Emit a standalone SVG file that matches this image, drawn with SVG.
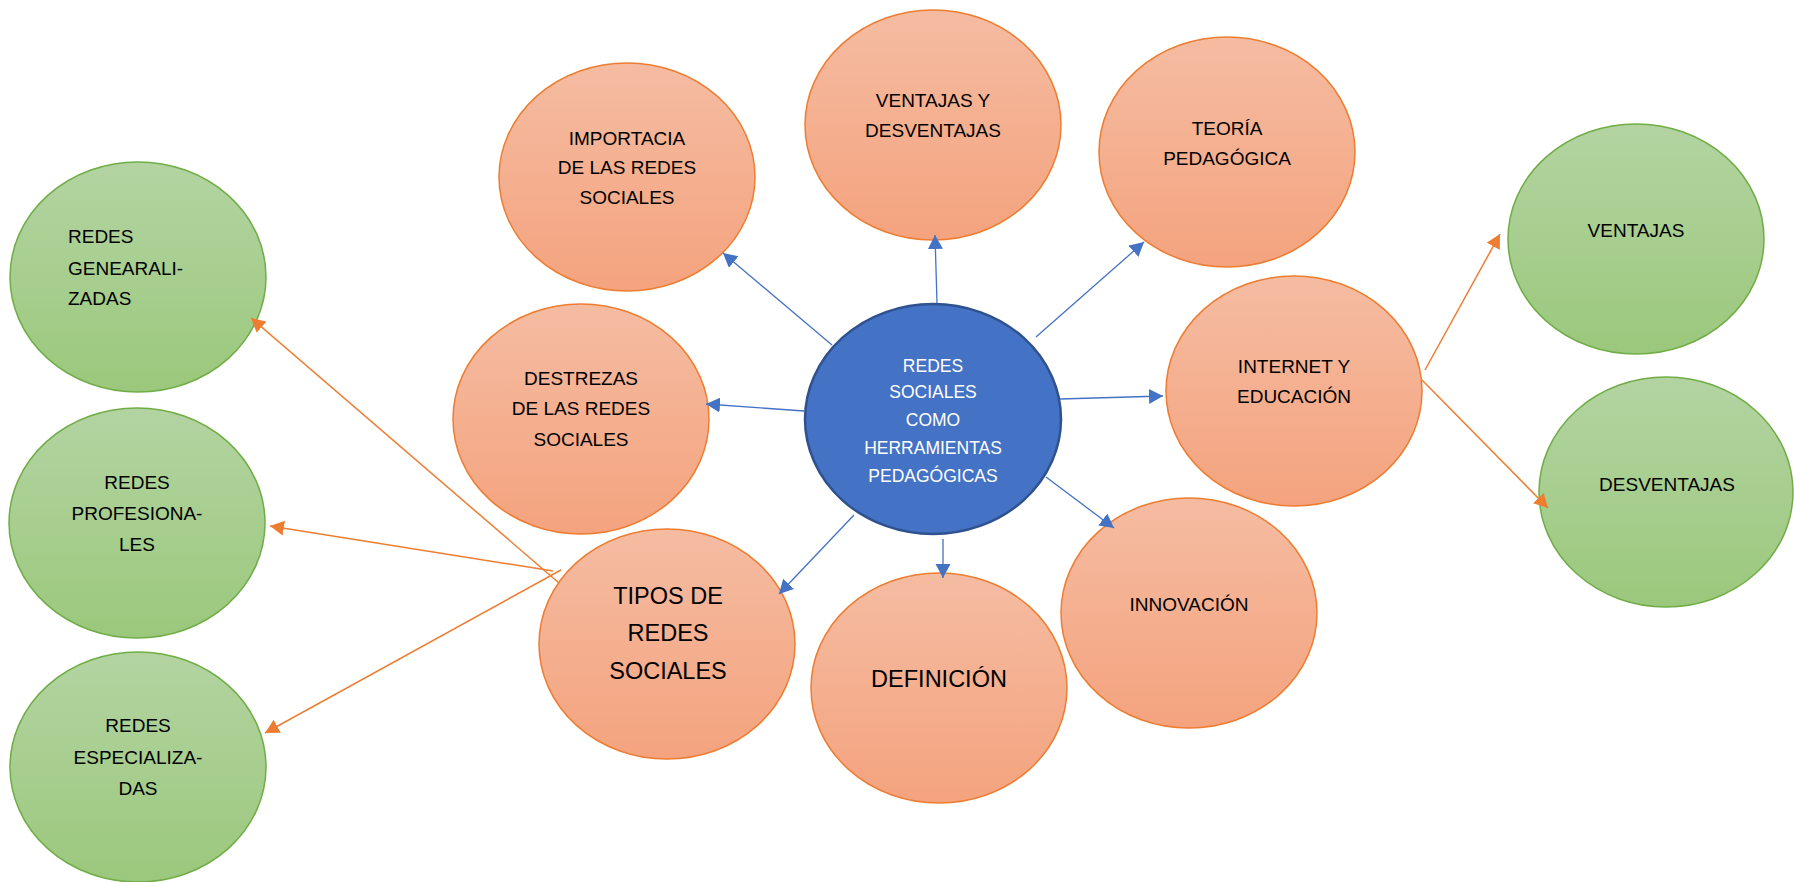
<svg xmlns="http://www.w3.org/2000/svg" width="1794" height="882" viewBox="0 0 1794 882">
<style>
.or{fill:url(#gOr);stroke:#ED7D31;stroke-width:1.5}
.gr{fill:url(#gGr);stroke:#70AD47;stroke-width:1.5}
.bl{fill:#4472C4;stroke:#2F528F;stroke-width:2.5}
text{font-family:"Liberation Sans",Arial,sans-serif;font-size:19px;fill:#000}
.c{text-anchor:middle}
.w{fill:#fff;font-size:17.5px}
.big{font-size:23.5px}
.ab{stroke:#4472C4;stroke-width:1.3;fill:none;marker-end:url(#mB)}
.ao{stroke:#ED7D31;stroke-width:1.5;fill:none;marker-end:url(#mO)}
</style>
<defs>
<linearGradient id="gOr" x1="0" y1="0" x2="0" y2="1">
<stop offset="0" stop-color="#F5BCA2"/><stop offset="1" stop-color="#F4A37E"/>
</linearGradient>
<linearGradient id="gGr" x1="0" y1="0" x2="0" y2="1">
<stop offset="0" stop-color="#B3D4A2"/><stop offset="1" stop-color="#9BC87C"/>
</linearGradient>
<marker id="mB" markerUnits="userSpaceOnUse" markerWidth="16" markerHeight="16" refX="14" refY="7.5" orient="auto">
<path d="M0,0 L14,7.5 L0,15 Z" fill="#4472C4"/>
</marker>
<marker id="mO" markerUnits="userSpaceOnUse" markerWidth="16" markerHeight="16" refX="14" refY="7.5" orient="auto">
<path d="M0,0 L14,7.5 L0,15 Z" fill="#ED7D31"/>
</marker>
</defs>
<rect width="1794" height="882" fill="#fff"/>

<g id="importancia">
<ellipse class="or" cx="627" cy="177" rx="128" ry="114"/>
<text class="c" x="627" y="145">IMPORTACIA</text>
<text class="c" x="627" y="174">DE LAS REDES</text>
<text class="c" x="627" y="204">SOCIALES</text>
</g>
<g id="ventajas-desventajas">
<ellipse class="or" cx="933" cy="125" rx="128" ry="115"/>
<text class="c" x="933" y="107">VENTAJAS Y</text>
<text class="c" x="933" y="137">DESVENTAJAS</text>
</g>
<g id="teoria">
<ellipse class="or" cx="1227" cy="152" rx="128" ry="115"/>
<text class="c" x="1227" y="135">TEORÍA</text>
<text class="c" x="1227" y="165">PEDAGÓGICA</text>
</g>
<g id="destrezas">
<ellipse class="or" cx="581" cy="419" rx="128" ry="115"/>
<text class="c" x="581" y="385">DESTREZAS</text>
<text class="c" x="581" y="415">DE LAS REDES</text>
<text class="c" x="581" y="446">SOCIALES</text>
</g>
<g id="internet">
<ellipse class="or" cx="1294" cy="391" rx="128" ry="115"/>
<text class="c" x="1294" y="373">INTERNET Y</text>
<text class="c" x="1294" y="403">EDUCACIÓN</text>
</g>
<g id="tipos">
<ellipse class="or" cx="667" cy="644" rx="128" ry="115"/>
<text class="c big" x="668" y="604">TIPOS DE</text>
<text class="c big" x="668" y="641">REDES</text>
<text class="c big" x="668" y="679">SOCIALES</text>
</g>
<g id="definicion">
<ellipse class="or" cx="939" cy="688" rx="128" ry="115"/>
<text class="c big" x="939" y="687">DEFINICIÓN</text>
</g>
<g id="innovacion">
<ellipse class="or" cx="1189" cy="613" rx="128" ry="115"/>
<text class="c" x="1189" y="611">INNOVACIÓN</text>
</g>
<g id="centro">
<ellipse class="bl" cx="933" cy="419" rx="128" ry="115"/>
<text class="c w" x="933" y="372">REDES</text>
<text class="c w" x="933" y="398">SOCIALES</text>
<text class="c w" x="933" y="426">COMO</text>
<text class="c w" x="933" y="454">HERRAMIENTAS</text>
<text class="c w" x="933" y="482">PEDAGÓGICAS</text>
</g>
<g id="generalizadas">
<ellipse class="gr" cx="138" cy="277" rx="128" ry="115"/>
<text x="68" y="243">REDES</text>
<text x="68" y="275">GENEARALI-</text>
<text x="68" y="305">ZADAS</text>
</g>
<g id="profesionales">
<ellipse class="gr" cx="137" cy="523" rx="128" ry="115"/>
<text class="c" x="137" y="489">REDES</text>
<text class="c" x="137" y="520">PROFESIONA-</text>
<text class="c" x="137" y="551">LES</text>
</g>
<g id="especializadas">
<ellipse class="gr" cx="138" cy="767" rx="128" ry="115"/>
<text class="c" x="138" y="732">REDES</text>
<text class="c" x="138" y="764">ESPECIALIZA-</text>
<text class="c" x="138" y="795">DAS</text>
</g>
<g id="ventajas">
<ellipse class="gr" cx="1636" cy="239" rx="128" ry="115"/>
<text class="c" x="1636" y="237">VENTAJAS</text>
</g>
<g id="desventajas">
<ellipse class="gr" cx="1666" cy="492" rx="127" ry="115"/>
<text class="c" x="1667" y="491">DESVENTAJAS</text>
</g>

<g id="connectors">
<line class="ab" x1="832" y1="345" x2="723" y2="253"/>
<line class="ab" x1="937" y1="303" x2="935" y2="235"/>
<line class="ab" x1="1036" y1="337" x2="1144" y2="242"/>
<line class="ab" x1="804" y1="411" x2="706" y2="404"/>
<line class="ab" x1="1060" y1="399" x2="1163" y2="396"/>
<line class="ab" x1="854" y1="515" x2="779" y2="594"/>
<line class="ab" x1="943" y1="539" x2="943" y2="578"/>
<line class="ab" x1="1046" y1="477" x2="1114" y2="528"/>
<line class="ao" x1="559" y1="583" x2="251" y2="318"/>
<line class="ao" x1="553" y1="571" x2="270" y2="526"/>
<line class="ao" x1="561" y1="570" x2="265" y2="733"/>
<line class="ao" x1="1425" y1="370" x2="1500" y2="234"/>
<line class="ao" x1="1422" y1="380" x2="1548" y2="508"/>
</g>
</svg>
